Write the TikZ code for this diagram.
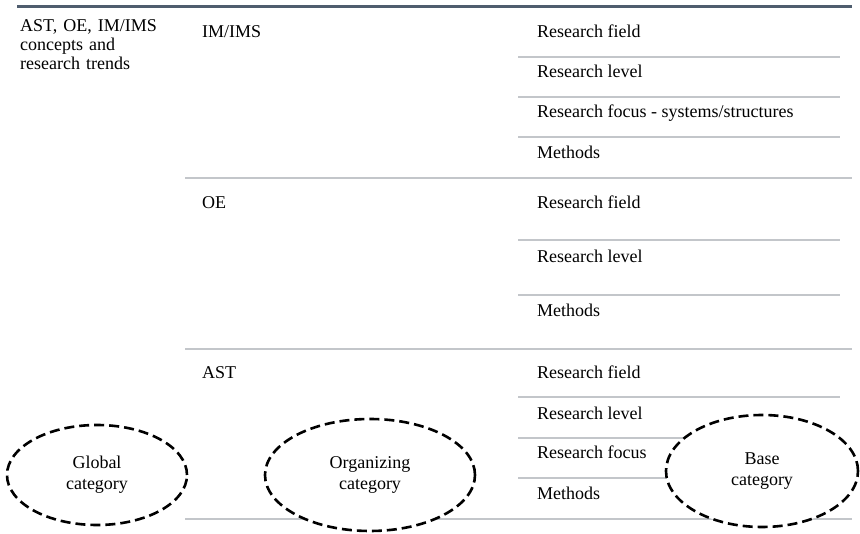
\documentclass[tikz,border=0pt]{standalone}
\usepackage{fontspec}
\setmainfont{Liberation Serif}
\usetikzlibrary{shapes.geometric}
\definecolor{rulegray}{HTML}{C3C6CA}
\definecolor{topbar}{HTML}{4F5D6E}
\tikzset{
  every node/.style={font=\fontsize{18}{19}\selectfont},
  cell/.style={anchor=base west, inner sep=0pt},
  rule/.style={draw=rulegray, line width=2.4pt},
  category/.style={ellipse, draw=black, fill=white, dash pattern=on 10pt off 5pt,
    line width=2.6pt, inner sep=0pt, align=center,
    font=\fontsize{18}{21}\selectfont},
}
\begin{document}
\begin{tikzpicture}[x=1pt, y=-1pt]
\useasboundingbox (0,0) rectangle (860,534);

% header rule
\draw[draw=topbar, line width=2.6pt] (17,6.5) -- (852,6.5);

% global column
\node[cell, align=left, text width=160pt] (global) at (20,32)
  {AST, OE, IM/IMS\\concepts and\\research trends};

% IM/IMS block
\node[cell] (ims) at (202,38) {IM/IMS};
\node[cell] (ims1) at (537,38) {Research field};
\node[cell] (ims2) at (537,78) {Research level};
\node[cell] (ims3) at (537,118) {Research focus - systems/structures};
\node[cell] (ims4) at (537,159) {Methods};
\draw[rule] (518,57) -- (840,57);
\draw[rule] (518,97) -- (840,97);
\draw[rule] (518,137) -- (840,137);
\draw[rule] (185,178) -- (852,178);

% OE block
\node[cell] (oe) at (202,209) {OE};
\node[cell] (oe1) at (537,209) {Research field};
\node[cell] (oe2) at (537,263) {Research level};
\node[cell] (oe3) at (537,317) {Methods};
\draw[rule] (518,240) -- (840,240);
\draw[rule] (518,295) -- (840,295);
\draw[rule] (185,349) -- (852,349);

% AST block
\node[cell] (ast) at (202,379) {AST};
\node[cell] (ast1) at (537,379) {Research field};
\node[cell] (ast2) at (537,420) {Research level};
\node[cell] (ast3) at (537,459) {Research focus};
\node[cell] (ast4) at (537,500) {Methods};
\draw[rule] (518,397) -- (840,397);
\draw[rule] (518,438) -- (840,438);
\draw[rule] (518,478) -- (840,478);
\draw[rule] (185,519) -- (852,519);

% category labels
\node[category, minimum width=180pt, minimum height=100pt] (gcat) at (97,475)
  {Global\\category};
\node[category, minimum width=210pt, minimum height=112pt] (ocat) at (370,475)
  {Organizing\\category};
\node[category, minimum width=192pt, minimum height=112pt] (bcat) at (762,471)
  {Base\\category};
\end{tikzpicture}
\end{document}
